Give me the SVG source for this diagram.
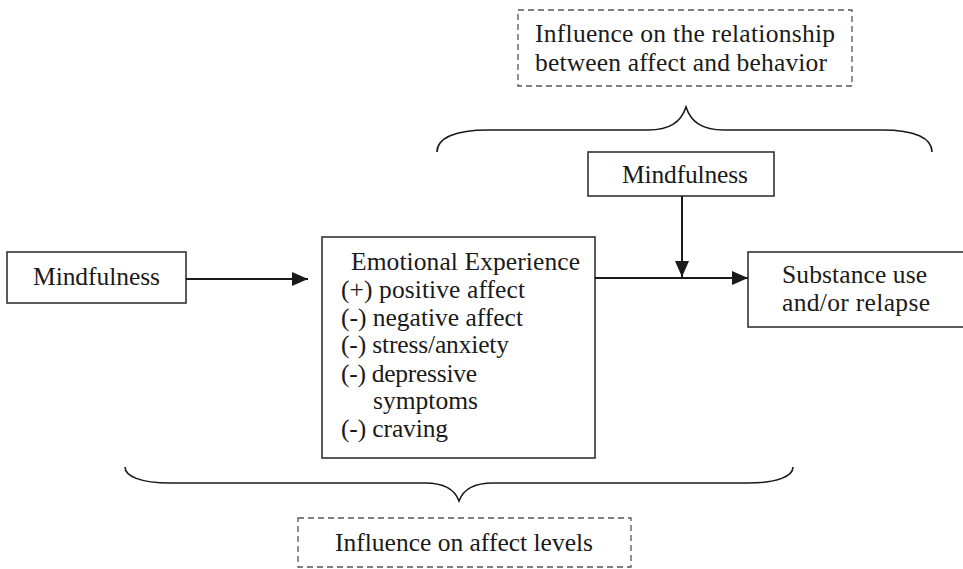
<svg xmlns="http://www.w3.org/2000/svg" width="963" height="569" viewBox="0 0 963 569">
<defs>
<style>
.box{fill:#fff;stroke:#333;stroke-width:1.6}
.dash{fill:#fff;stroke:#555;stroke-width:1.3;stroke-dasharray:6 4}
.conn{fill:none;stroke:#1a1a1a;stroke-width:2}
.brace{fill:none;stroke:#1a1a1a;stroke-width:1.6}
</style>
<marker id="ah" viewBox="0 0 16 14" refX="16" refY="7" markerWidth="16" markerHeight="14" markerUnits="userSpaceOnUse" orient="auto">
<path d="M0,0 L16,7 L0,14 Z" fill="#1a1a1a"/>
</marker>
</defs>
<rect width="963" height="569" fill="#fff"/>

<g id="label-top" font-family="Liberation Serif, serif" font-size="25.5" fill="#1a1a1a">
<rect class="dash" x="518" y="10" width="334" height="76"/>
<text x="535" y="42" textLength="300" lengthAdjust="spacing">Influence on the relationship</text>
<text x="535" y="71" textLength="292" lengthAdjust="spacing">between affect and behavior</text>
</g>

<g id="brace-top">
<path class="brace" d="M437,152 C437,138 455,130 488,130 L648,130 C670,130 681,122 686,107 C691,122 702,130 724,130 L882,130 C915,130 932,138 932,152"/>
</g>

<g id="mindfulness-top" font-family="Liberation Serif, serif" font-size="25.5" fill="#1a1a1a">
<rect class="box" x="588" y="152" width="186" height="44"/>
<text x="622" y="183" textLength="126" lengthAdjust="spacing">Mindfulness</text>
</g>

<g id="mindfulness-left" font-family="Liberation Serif, serif" font-size="25.5" fill="#1a1a1a">
<rect class="box" x="7" y="252" width="179" height="51"/>
<text x="33" y="285" textLength="127" lengthAdjust="spacing">Mindfulness</text>
</g>

<g id="emotional-experience" font-family="Liberation Serif, serif" font-size="25.5" fill="#1a1a1a">
<rect class="box" x="322" y="237" width="273" height="221"/>
<text x="351" y="270" textLength="229" lengthAdjust="spacing">Emotional Experience</text>
<text x="341" y="298" textLength="184" lengthAdjust="spacing">(+) positive affect</text>
<text x="341" y="326" textLength="182" lengthAdjust="spacing">(-) negative affect</text>
<text x="341" y="353" textLength="168" lengthAdjust="spacing">(-) stress/anxiety</text>
<text x="341" y="382" textLength="136" lengthAdjust="spacing">(-) depressive</text>
<text x="373" y="409" textLength="105" lengthAdjust="spacing">symptoms</text>
<text x="341" y="437" textLength="107" lengthAdjust="spacing">(-) craving</text>
</g>

<g id="substance-use" font-family="Liberation Serif, serif" font-size="25.5" fill="#1a1a1a">
<rect class="box" x="748" y="252" width="230" height="75"/>
<text x="782" y="283" textLength="145" lengthAdjust="spacing">Substance use</text>
<text x="782" y="311" textLength="148" lengthAdjust="spacing">and/or relapse</text>
</g>

<g id="brace-bottom">
<path class="brace" d="M125,467 C125,476 140,483 170,483 L425,483 C445,483 455,490 459,501 C463,490 473,483 493,483 L748,483 C778,483 793,476 793,467"/>
</g>

<g id="label-bottom" font-family="Liberation Serif, serif" font-size="25.5" fill="#1a1a1a">
<rect class="dash" x="298" y="518" width="333" height="49"/>
<text x="335" y="551" textLength="258" lengthAdjust="spacing">Influence on affect levels</text>
</g>

<g id="connectors">
<line class="conn" x1="186" y1="279" x2="308" y2="279" marker-end="url(#ah)"/>
<line class="conn" x1="595" y1="278" x2="748" y2="278" marker-end="url(#ah)"/>
<line class="conn" x1="682" y1="196" x2="682" y2="277" marker-end="url(#ah)"/>
</g>
</svg>
